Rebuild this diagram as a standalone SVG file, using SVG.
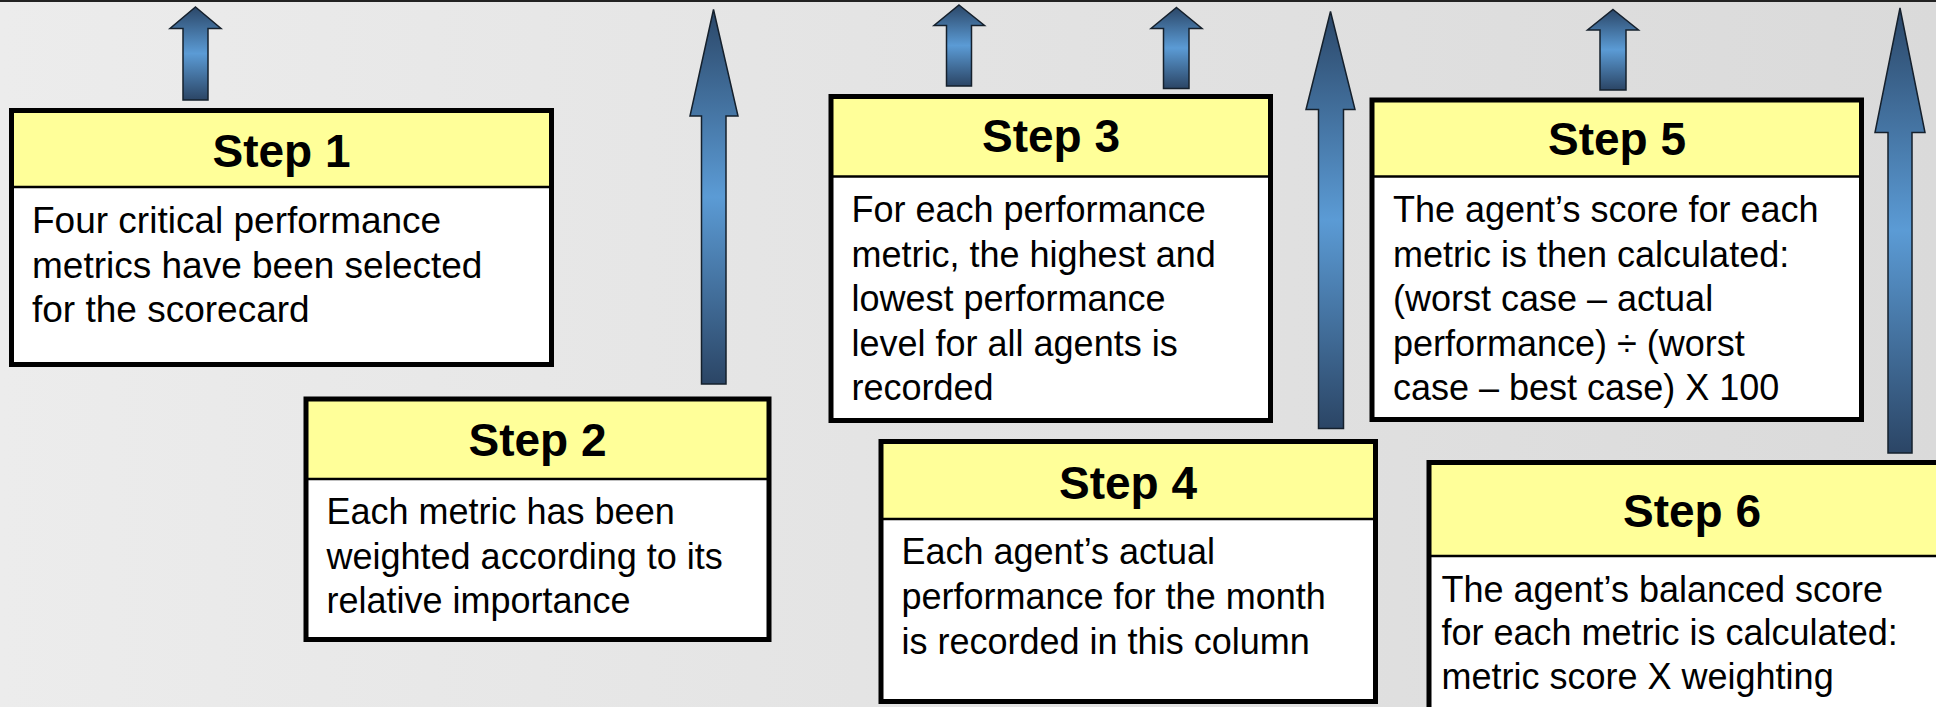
<svg xmlns="http://www.w3.org/2000/svg" width="1936" height="707" viewBox="0 0 1936 707">
<defs>
<linearGradient id="bg" x1="0" y1="0" x2="1" y2="0">
<stop offset="0" stop-color="#ececec"/>
<stop offset="1" stop-color="#dadada"/>
</linearGradient>
<linearGradient id="arr" x1="0" y1="0" x2="0" y2="1">
<stop offset="0" stop-color="#2b4768"/>
<stop offset="0.5" stop-color="#5b9bd5"/>
<stop offset="1" stop-color="#2b4565"/>
</linearGradient>
<style>
.hdr{fill:#ffff99;stroke:none}
.body{fill:#ffffff;stroke:none}
.frame{fill:none;stroke:#000;stroke-width:5}
.sep{stroke:#000;stroke-width:2.5}
.title{font-family:"Liberation Sans",Arial,sans-serif;font-weight:bold;font-size:46px;text-anchor:middle;fill:#000}
.txt{font-family:"Liberation Sans",Arial,sans-serif;font-size:36px;fill:#000}
.big{font-size:37px}
.arrow{fill:url(#arr);stroke:#15202c;stroke-width:1.5;stroke-linejoin:miter}
</style>
</defs>
<rect x="0" y="0" width="1936" height="707" fill="url(#bg)"/>
<rect x="0" y="0" width="1936" height="2" fill="#222"/>

<g id="connectors">
<polygon class="arrow" points="195.5,7 221,28.5 208,28.5 208,100 183,100 183,28.5 170,28.5"/>
<polygon class="arrow" points="713.5,9.5 738,116 726,116 726,384 701.5,384 701.5,116 690,116"/>
<polygon class="arrow" points="959,5 984.5,25.5 971.5,25.5 971.5,86 946.5,86 946.5,25.5 934,25.5"/>
<polygon class="arrow" points="1176.5,7.5 1202,28.5 1189,28.5 1189,88.5 1163.5,88.5 1163.5,28.5 1151,28.5"/>
<polygon class="arrow" points="1330.5,11.5 1355,109.5 1343.5,109.5 1343.5,428.5 1318.5,428.5 1318.5,109.5 1306,109.5"/>
<polygon class="arrow" points="1613,9.5 1638.5,30 1626,30 1626,90 1600,90 1600,30 1587.5,30"/>
<polygon class="arrow" points="1900,8 1925,132.5 1912,132.5 1912,453 1888,453 1888,132.5 1875,132.5"/>
</g>

<g id="step1">
<rect class="hdr" x="11.5" y="110.5" width="540" height="76.5"/>
<rect class="body" x="11.5" y="187" width="540" height="177.5"/>
<line class="sep" x1="11.5" y1="187" x2="551.5" y2="187"/>
<rect class="frame" x="11.5" y="110.5" width="540" height="254"/>
<text class="title" x="281.5" y="167">Step 1</text>
<text class="txt big" x="32" y="233">Four critical performance</text>
<text class="txt big" x="32" y="278">metrics have been selected</text>
<text class="txt big" x="32" y="322">for the scorecard</text>
</g>

<g id="step2">
<rect class="hdr" x="306" y="399" width="463" height="80"/>
<rect class="body" x="306" y="479" width="463" height="160.5"/>
<line class="sep" x1="306" y1="479" x2="769" y2="479"/>
<rect class="frame" x="306" y="399" width="463" height="240.5"/>
<text class="title" x="537.5" y="456">Step 2</text>
<text class="txt" x="326.5" y="524">Each metric has been</text>
<text class="txt" x="326.5" y="569">weighted according to its</text>
<text class="txt" x="326.5" y="613">relative importance</text>
</g>

<g id="step3">
<rect class="hdr" x="831" y="96.5" width="439.5" height="80"/>
<rect class="body" x="831" y="176.5" width="439.5" height="244"/>
<line class="sep" x1="831" y1="176.5" x2="1270.5" y2="176.5"/>
<rect class="frame" x="831" y="96.5" width="439.5" height="324"/>
<text class="title" x="1051" y="152">Step 3</text>
<text class="txt" x="851.5" y="221.5">For each performance</text>
<text class="txt" x="851.5" y="266.5">metric, the highest and</text>
<text class="txt" x="851.5" y="311">lowest performance</text>
<text class="txt" x="851.5" y="355.5">level for all agents is</text>
<text class="txt" x="851.5" y="400">recorded</text>
</g>

<g id="step4">
<rect class="hdr" x="881" y="441.5" width="494.5" height="77.5"/>
<rect class="body" x="881" y="519" width="494.5" height="182.5"/>
<line class="sep" x1="881" y1="519" x2="1375.5" y2="519"/>
<rect class="frame" x="881" y="441.5" width="494.5" height="260"/>
<text class="title" x="1128" y="499">Step 4</text>
<text class="txt" x="901.5" y="564">Each agent’s actual</text>
<text class="txt" x="901.5" y="609">performance for the month</text>
<text class="txt" x="901.5" y="654">is recorded in this column</text>
</g>

<g id="step5">
<rect class="hdr" x="1372" y="100" width="489.5" height="76.5"/>
<rect class="body" x="1372" y="176.5" width="489.5" height="243"/>
<line class="sep" x1="1372" y1="176.5" x2="1861.5" y2="176.5"/>
<rect class="frame" x="1372" y="100" width="489.5" height="319.5"/>
<text class="title" x="1617" y="155">Step 5</text>
<text class="txt" x="1393" y="221.5">The agent’s score for each</text>
<text class="txt" x="1393" y="266.5">metric is then calculated:</text>
<text class="txt" x="1393" y="311">(worst case – actual</text>
<text class="txt" x="1393" y="355.5">performance) ÷ (worst</text>
<text class="txt" x="1393" y="400">case – best case) X 100</text>
</g>

<g id="step6">
<rect class="hdr" x="1429" y="462.5" width="526" height="93.5"/>
<rect class="body" x="1429" y="556" width="526" height="206.5"/>
<line class="sep" x1="1429" y1="556" x2="1955" y2="556"/>
<rect class="frame" x="1429" y="462.5" width="526" height="300"/>
<text class="title" x="1692" y="527">Step 6</text>
<text class="txt" x="1441.5" y="601.5">The agent’s balanced score</text>
<text class="txt" x="1441.5" y="645">for each metric is calculated:</text>
<text class="txt" x="1441.5" y="688.5">metric score X weighting</text>
</g>
</svg>
